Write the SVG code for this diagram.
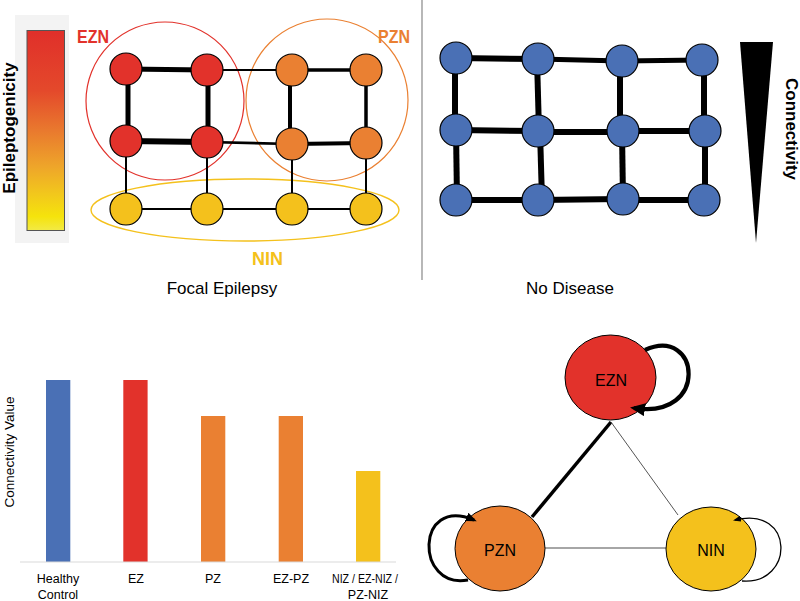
<svg xmlns="http://www.w3.org/2000/svg" width="800" height="601" viewBox="0 0 800 601">
<defs>
<linearGradient id="epi" x1="0" y1="0" x2="0" y2="1">
<stop offset="0" stop-color="#e02f2a"/>
<stop offset="0.3" stop-color="#e4492b"/>
<stop offset="0.5" stop-color="#e9792e"/>
<stop offset="0.68" stop-color="#eea52a"/>
<stop offset="0.82" stop-color="#f2c81c"/>
<stop offset="0.93" stop-color="#f5e30c"/>
<stop offset="1" stop-color="#f2ea45"/>
</linearGradient>
<marker id="ahL" markerUnits="userSpaceOnUse" viewBox="0 0 15 13" markerWidth="15" markerHeight="13" refX="11" refY="6.5" orient="auto"><path d="M0,0 L15,6.5 L0,13 z" fill="#000"/></marker>
<marker id="ahM" markerUnits="userSpaceOnUse" viewBox="0 0 11 9" markerWidth="11" markerHeight="9" refX="8" refY="4.5" orient="auto"><path d="M0,0 L11,4.5 L0,9 z" fill="#000"/></marker>
<marker id="ahS" markerUnits="userSpaceOnUse" viewBox="0 0 8 6" markerWidth="8" markerHeight="6" refX="6" refY="3" orient="auto"><path d="M0,0 L8,3 L0,6 z" fill="#000"/></marker>
</defs>
<style>
text{font-family:"Liberation Sans",Arial,sans-serif}
.lbl{font-size:17px;fill:#000}
.bold{font-weight:bold}
.e{stroke:#000;stroke-linecap:butt;fill:none}
.n{stroke:#000;stroke-width:1.2}
.red{fill:#e2322b}
.org{fill:#ea8032}
.yel{fill:#f4c11c}
.blu{fill:#4a70b5}
.tick{font-size:12.5px;fill:#000;text-anchor:middle}
.gn{stroke:#000;stroke-width:1}
.gl{font-size:16px;fill:#000;text-anchor:middle}
</style>
<rect width="800" height="601" fill="#fff"/>

<!-- Epileptogenicity legend -->
<g id="legend">
<rect x="15" y="15" width="54" height="228" fill="#f3f3f3"/>
<rect x="27" y="30.5" width="37.5" height="200" fill="url(#epi)" stroke="#555" stroke-width="1"/>
<text class="lbl bold" transform="translate(15,128) rotate(-90)" text-anchor="middle">Epileptogenicity</text>
</g>

<!-- Zone outlines -->
<g id="zones" fill="none">
<circle cx="165" cy="101" r="79" stroke="#e2322b" stroke-width="1.2"/>
<circle cx="327" cy="100" r="81" stroke="#ea8032" stroke-width="1.2"/>
<ellipse cx="245" cy="210" rx="154" ry="31" stroke="#f4c11c" stroke-width="1.4"/>
</g>

<!-- Focal epilepsy grid connectors -->
<g id="connectors">
<g id="focal-edges" class="e">
<line x1="126" y1="69" x2="207" y2="70" stroke-width="5"/>
<line x1="207" y1="70" x2="292" y2="70" stroke-width="2.2"/>
<line x1="292" y1="70" x2="366" y2="70" stroke-width="3.5"/>
<line x1="126" y1="141" x2="207" y2="142" stroke-width="6"/>
<line x1="207" y1="142" x2="292" y2="144" stroke-width="2.7"/>
<line x1="292" y1="144" x2="366" y2="143" stroke-width="4"/>
<line x1="126" y1="209" x2="207" y2="209" stroke-width="2"/>
<line x1="207" y1="209" x2="292" y2="209" stroke-width="2"/>
<line x1="292" y1="209" x2="366" y2="209" stroke-width="2"/>
<line x1="128" y1="69" x2="128" y2="141" stroke-width="5"/>
<line x1="208" y1="70" x2="208" y2="142" stroke-width="5"/>
<line x1="290" y1="70" x2="290" y2="144" stroke-width="4"/>
<line x1="366" y1="70" x2="366" y2="143" stroke-width="3.5"/>
<line x1="126" y1="141" x2="126" y2="209" stroke-width="2"/>
<line x1="207" y1="142" x2="207" y2="209" stroke-width="2"/>
<line x1="292" y1="144" x2="292" y2="209" stroke-width="2"/>
<line x1="366" y1="143" x2="366" y2="209" stroke-width="2"/>
</g>
<g id="healthy-edges" class="e" stroke-width="6">
<line x1="456" y1="58" x2="538" y2="59"/>
<line x1="538" y1="59" x2="622" y2="61" stroke-width="5"/>
<line x1="622" y1="61" x2="702" y2="60" stroke-width="5"/>
<line x1="456" y1="130" x2="538" y2="131"/>
<line x1="538" y1="132" x2="622" y2="132"/>
<line x1="622" y1="131" x2="705" y2="131"/>
<line x1="456" y1="200" x2="538" y2="200"/>
<line x1="538" y1="200" x2="622" y2="199"/>
<line x1="622" y1="200" x2="704" y2="200"/>
<line x1="455" y1="58" x2="455" y2="130"/>
<line x1="537" y1="59" x2="539" y2="131"/>
<line x1="620" y1="61" x2="620" y2="131"/>
<line x1="704" y1="60" x2="704" y2="131"/>
<line x1="456" y1="130" x2="457" y2="200"/>
<line x1="540" y1="131" x2="542" y2="200"/>
<line x1="622" y1="131" x2="623" y2="200"/>
<line x1="705" y1="131" x2="705" y2="200"/>
</g>
<g id="summary-edges">
<line x1="611" y1="422" x2="532" y2="517" stroke="#000" stroke-width="3.5"/>
<line x1="611" y1="422" x2="678" y2="515" stroke="#555" stroke-width="1"/>
<line x1="545" y1="548" x2="666" y2="548" stroke="#888" stroke-width="1.5"/>
</g>
</g>

<!-- Focal epilepsy nodes -->
<g id="focal-nodes">
<g id="f-r1c1"><circle class="n red" cx="126" cy="69" r="16"/></g>
<g id="f-r1c2"><circle class="n red" cx="207" cy="70" r="16"/></g>
<g id="f-r1c3"><circle class="n org" cx="292" cy="70" r="16"/></g>
<g id="f-r1c4"><circle class="n org" cx="366" cy="70" r="16"/></g>
<g id="f-r2c1"><circle class="n red" cx="126" cy="141" r="16"/></g>
<g id="f-r2c2"><circle class="n red" cx="207" cy="142" r="16"/></g>
<g id="f-r2c3"><circle class="n org" cx="292" cy="144" r="16"/></g>
<g id="f-r2c4"><circle class="n org" cx="366" cy="143" r="16"/></g>
<g id="f-r3c1"><circle class="n yel" cx="126" cy="209" r="16"/></g>
<g id="f-r3c2"><circle class="n yel" cx="207" cy="209" r="16"/></g>
<g id="f-r3c3"><circle class="n yel" cx="292" cy="209" r="16"/></g>
<g id="f-r3c4"><circle class="n yel" cx="366" cy="209" r="16"/></g>
</g>

<g id="zone-labels">
<text x="77" y="43" class="bold" font-size="18" fill="#e2322b" textLength="32" lengthAdjust="spacingAndGlyphs">EZN</text>
<text x="378" y="43" class="bold" font-size="18" fill="#ea8032" textLength="32" lengthAdjust="spacingAndGlyphs">PZN</text>
<text x="252" y="265" class="bold" font-size="18" fill="#f4c11c" textLength="31" lengthAdjust="spacingAndGlyphs">NIN</text>
</g>
<text x="222" y="294" class="lbl" text-anchor="middle">Focal Epilepsy</text>

<!-- separator -->
<line x1="422" y1="0" x2="422" y2="280" stroke="#888" stroke-width="1.2"/>

<!-- No disease nodes -->
<g id="healthy-nodes">
<g id="h-r1c1"><circle class="n blu" cx="456" cy="58" r="16"/></g>
<g id="h-r1c2"><circle class="n blu" cx="538" cy="59" r="16"/></g>
<g id="h-r1c3"><circle class="n blu" cx="622" cy="61" r="16"/></g>
<g id="h-r1c4"><circle class="n blu" cx="702" cy="60" r="16"/></g>
<g id="h-r2c1"><circle class="n blu" cx="456" cy="130" r="16"/></g>
<g id="h-r2c2"><circle class="n blu" cx="538" cy="131" r="16"/></g>
<g id="h-r2c3"><circle class="n blu" cx="623" cy="131" r="16"/></g>
<g id="h-r2c4"><circle class="n blu" cx="705" cy="131" r="16"/></g>
<g id="h-r3c1"><circle class="n blu" cx="456" cy="200" r="16"/></g>
<g id="h-r3c2"><circle class="n blu" cx="538" cy="200" r="16"/></g>
<g id="h-r3c3"><circle class="n blu" cx="623" cy="199" r="16"/></g>
<g id="h-r3c4"><circle class="n blu" cx="704" cy="200" r="16"/></g>
</g>
<text x="570" y="294" class="lbl" text-anchor="middle">No Disease</text>

<g id="connectivity-scale">
<polygon points="740,42 773,42 756,243" fill="#000"/>
<text class="lbl bold" transform="translate(786,129) rotate(90)" text-anchor="middle">Connectivity</text>
</g>

<!-- Bar chart -->
<g id="bar-chart">
<text transform="translate(14,452) rotate(-90)" font-size="13.5" text-anchor="middle">Connectivity Value</text>
<rect class="blu" x="46" y="380" width="24.3" height="182"/>
<rect class="red" x="123.3" y="380" width="24.3" height="182"/>
<rect class="org" x="201" y="416" width="24.3" height="146"/>
<rect class="org" x="278.7" y="416" width="24.3" height="146"/>
<rect class="yel" x="356" y="471" width="24.3" height="91"/>
<line x1="20" y1="562" x2="396" y2="562" stroke="#d9d9d9" stroke-width="1.2"/>
<text class="tick" x="58" y="583">Healthy</text>
<text class="tick" x="58" y="599">Control</text>
<text class="tick" x="136" y="583">EZ</text>
<text class="tick" x="213" y="583">PZ</text>
<text class="tick" x="291" y="583">EZ-PZ</text>
<text class="tick" x="365" y="583" textLength="66" lengthAdjust="spacingAndGlyphs">NIZ / EZ-NIZ /</text>
<text class="tick" x="368" y="599">PZ-NIZ</text>
</g>

<!-- Summary network nodes -->
<g id="EZN">
<ellipse class="gn red" cx="610.5" cy="377.5" rx="45.5" ry="42.5"/>
<text class="gl" x="611" y="386">EZN</text>
</g>
<g id="PZN">
<ellipse class="gn org" cx="500" cy="548.5" rx="45" ry="42.5"/>
<text class="gl" x="500" y="556">PZN</text>
</g>
<g id="NIN">
<ellipse class="gn yel" cx="711" cy="549" rx="45" ry="42"/>
<text class="gl" x="711" y="556">NIN</text>
</g>

<g id="self-loops" fill="none" stroke="#000">
<path d="M645 350 C700 325 710 420 634 408" stroke-width="4.2" marker-end="url(#ahL)"/>
<path d="M468 580 C415 590 415 495 474 520" stroke-width="3" marker-end="url(#ahM)"/>
<path d="M742 581 C795 585 795 505 735 520" stroke-width="1.3" marker-end="url(#ahS)"/>
</g>
</svg>
